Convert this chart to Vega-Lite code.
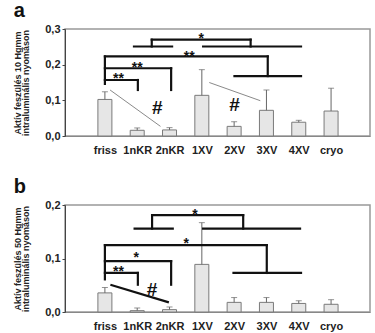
{
  "$schema": "https://vega.github.io/schema/vega-lite/v6.json",
  "padding": {"left": 12, "top": 0, "right": 5, "bottom": 0},
  "spacing": 20,
  "datasets": {
    "bars": [
      {"panel": "a", "cat": "friss", "pos": 0, "value": 0.1025, "err": 0.124},
      {"panel": "a", "cat": "1nKR", "pos": 1, "value": 0.016, "err": 0.0226},
      {"panel": "a", "cat": "2nKR", "pos": 2, "value": 0.017, "err": 0.0235},
      {"panel": "a", "cat": "1XV", "pos": 3, "value": 0.114, "err": 0.186},
      {"panel": "a", "cat": "2XV", "pos": 4, "value": 0.027, "err": 0.040},
      {"panel": "a", "cat": "3XV", "pos": 5, "value": 0.072, "err": 0.129},
      {"panel": "a", "cat": "4XV", "pos": 6, "value": 0.0386, "err": 0.044},
      {"panel": "a", "cat": "cryo", "pos": 7, "value": 0.070, "err": 0.134},
      {"panel": "b", "cat": "friss", "pos": 0, "value": 0.0357, "err": 0.0458},
      {"panel": "b", "cat": "1nKR", "pos": 1, "value": 0.0025, "err": 0.0075},
      {"panel": "b", "cat": "2nKR", "pos": 2, "value": 0.0044, "err": 0.0094},
      {"panel": "b", "cat": "1XV", "pos": 3, "value": 0.089, "err": 0.167},
      {"panel": "b", "cat": "2XV", "pos": 4, "value": 0.018, "err": 0.027},
      {"panel": "b", "cat": "3XV", "pos": 5, "value": 0.018, "err": 0.027},
      {"panel": "b", "cat": "4XV", "pos": 6, "value": 0.016, "err": 0.021},
      {"panel": "b", "cat": "cryo", "pos": 7, "value": 0.0144, "err": 0.023}
    ],
    "brackets": [
      {"panel": "a", "x1": 0.9, "x2": 2.08, "y1": 0.251, "y2": 0.251},
      {"panel": "a", "x1": 3.04, "x2": 6.07, "y1": 0.251, "y2": 0.251},
      {"panel": "a", "x1": 1.45, "x2": 1.45, "y1": 0.251, "y2": 0.270},
      {"panel": "a", "x1": 1.45, "x2": 4.51, "y1": 0.270, "y2": 0.270},
      {"panel": "a", "x1": 4.51, "x2": 4.51, "y1": 0.270, "y2": 0.251},
      {"panel": "a", "x1": 0, "x2": 5.04, "y1": 0.223, "y2": 0.223},
      {"panel": "a", "x1": 5.04, "x2": 5.04, "y1": 0.223, "y2": 0.168},
      {"panel": "a", "x1": 4.01, "x2": 6.07, "y1": 0.168, "y2": 0.168},
      {"panel": "a", "x1": 0, "x2": 0, "y1": 0.223, "y2": 0.146},
      {"panel": "a", "x1": 0, "x2": 2.05, "y1": 0.190, "y2": 0.190},
      {"panel": "a", "x1": 2.05, "x2": 2.05, "y1": 0.190, "y2": 0.129},
      {"panel": "a", "x1": 0, "x2": 1.02, "y1": 0.157, "y2": 0.157},
      {"panel": "a", "x1": 1.02, "x2": 1.02, "y1": 0.157, "y2": 0.129},
      {"panel": "b", "x1": 0.92, "x2": 2.1, "y1": 0.156, "y2": 0.156},
      {"panel": "b", "x1": 3.04, "x2": 6.04, "y1": 0.156, "y2": 0.156},
      {"panel": "b", "x1": 1.46, "x2": 1.46, "y1": 0.156, "y2": 0.181},
      {"panel": "b", "x1": 1.46, "x2": 4.28, "y1": 0.181, "y2": 0.181},
      {"panel": "b", "x1": 4.28, "x2": 4.28, "y1": 0.181, "y2": 0.156},
      {"panel": "b", "x1": 0, "x2": 5.01, "y1": 0.125, "y2": 0.125},
      {"panel": "b", "x1": 5.01, "x2": 5.01, "y1": 0.125, "y2": 0.073},
      {"panel": "b", "x1": 3.98, "x2": 6.07, "y1": 0.073, "y2": 0.073},
      {"panel": "b", "x1": 0, "x2": 0, "y1": 0.125, "y2": 0.061},
      {"panel": "b", "x1": 0, "x2": 2.05, "y1": 0.095, "y2": 0.095},
      {"panel": "b", "x1": 2.05, "x2": 2.05, "y1": 0.095, "y2": 0.051},
      {"panel": "b", "x1": 0, "x2": 1.02, "y1": 0.073, "y2": 0.073},
      {"panel": "b", "x1": 1.02, "x2": 1.02, "y1": 0.073, "y2": 0.051}
    ],
    "diag": [
      {"panel": "a", "x1": 0.16, "y1": 0.129, "x2": 1.72, "y2": 0.027},
      {"panel": "a", "x1": 3.23, "y1": 0.150, "x2": 4.81, "y2": 0.099},
      {"panel": "b", "x1": 0.17, "y1": 0.051, "x2": 1.98, "y2": 0.018}
    ],
    "labels": [
      {"panel": "a", "x": 2.98, "y": 0.284, "label": "*"},
      {"panel": "a", "x": 2.61, "y": 0.234, "label": "**"},
      {"panel": "a", "x": 1.0, "y": 0.201, "label": "**"},
      {"panel": "a", "x": 0.42, "y": 0.170, "label": "**"},
      {"panel": "a", "x": 1.62, "y": 0.082, "label": "#"},
      {"panel": "a", "x": 4.01, "y": 0.089, "label": "#"},
      {"panel": "b", "x": 2.79, "y": 0.189, "label": "*"},
      {"panel": "b", "x": 2.52, "y": 0.135, "label": "*"},
      {"panel": "b", "x": 0.97, "y": 0.108, "label": "*"},
      {"panel": "b", "x": 0.42, "y": 0.083, "label": "**"},
      {"panel": "b", "x": 1.46, "y": 0.043, "label": "#"}
    ]
  },
  "vconcat": [
    {
      "width": 305,
      "height": 107,
      "title": {"text": "a", "anchor": "start", "frame": "bounds", "fontSize": 20, "fontWeight": "bold", "offset": 2},
      "layer": [
        {
          "data": {"name": "bars"},
          "transform": [{"filter": "datum.panel === 'a'"}],
          "mark": {"type": "bar", "width": 14, "fill": "#e6e6e6", "stroke": "#7a7a7a", "strokeWidth": 1},
          "encoding": {
            "x": {"field": "pos", "type": "quantitative", "scale": {"domain": [-1.08, 8.05], "nice": false, "zero": false},
              "axis": {"title": null, "values": [0, 1, 2, 3, 4, 5, 6, 7], "ticks": false, "labelPadding": 8, "domainColor": "#888", "labelFlush": false, "labelOverlap": false,
                "labelExpr": "['friss','1nKR','2nKR','1XV','2XV','3XV','4XV','cryo'][datum.value]"}},
            "y": {"field": "value", "type": "quantitative", "scale": {"domain": [0, 0.3], "nice": false},
              "axis": {"title": ["Aktív feszülés 10 Hgmm", "intraluminális nyomáson"], "tickCount": 3, "format": ".1f", "labelOverlap": false, "labelFlush": false,
                "tickSize": 3, "labelPadding": 2, "titlePadding": 14, "domainColor": "#444", "tickColor": "#444"}}
          }
        },
        {
          "data": {"name": "bars"},
          "transform": [{"filter": "datum.panel === 'a'"}],
          "mark": {"type": "rule", "color": "#666", "strokeWidth": 1},
          "encoding": {
            "x": {"field": "pos", "type": "quantitative"},
            "y": {"field": "value", "type": "quantitative"},
            "y2": {"field": "err"}
          }
        },
        {
          "data": {"name": "bars"},
          "transform": [{"filter": "datum.panel === 'a'"}],
          "mark": {"type": "tick", "orient": "horizontal", "size": 6, "thickness": 1, "color": "#666"},
          "encoding": {
            "x": {"field": "pos", "type": "quantitative"},
            "y": {"field": "err", "type": "quantitative"}
          }
        },
        {
          "data": {"name": "diag"},
          "transform": [{"filter": "datum.panel === 'a'"}],
          "mark": {"type": "rule", "color": "#8a8a8a", "strokeWidth": 1},
          "encoding": {
            "x": {"field": "x1", "type": "quantitative"},
            "x2": {"field": "x2"},
            "y": {"field": "y1", "type": "quantitative"},
            "y2": {"field": "y2"}
          }
        },
        {
          "data": {"name": "brackets"},
          "transform": [{"filter": "datum.panel === 'a'"}],
          "mark": {"type": "rule", "color": "#111", "strokeWidth": 2.2, "strokeCap": "square"},
          "encoding": {
            "x": {"field": "x1", "type": "quantitative"},
            "x2": {"field": "x2"},
            "y": {"field": "y1", "type": "quantitative"},
            "y2": {"field": "y2"}
          }
        },
        {
          "data": {"name": "labels"},
          "transform": [{"filter": "datum.panel === 'a' && datum.label !== '#'"}],
          "mark": {"type": "text", "fontSize": 14, "fontWeight": "bold", "baseline": "alphabetic", "dy": 8, "color": "#111"},
          "encoding": {
            "x": {"field": "x", "type": "quantitative"},
            "y": {"field": "y", "type": "quantitative"},
            "text": {"field": "label"}
          }
        },
        {
          "data": {"name": "labels"},
          "transform": [{"filter": "datum.panel === 'a' && datum.label === '#'"}],
          "mark": {"type": "text", "fontSize": 19, "fontWeight": "bold", "baseline": "alphabetic", "dy": 7, "color": "#111"},
          "encoding": {
            "x": {"field": "x", "type": "quantitative"},
            "y": {"field": "y", "type": "quantitative"},
            "text": {"field": "label"}
          }
        }
      ]
    },
    {
      "width": 305,
      "height": 107,
      "title": {"text": "b", "anchor": "start", "frame": "bounds", "fontSize": 20, "fontWeight": "bold", "offset": 2},
      "layer": [
        {
          "data": {"name": "bars"},
          "transform": [{"filter": "datum.panel === 'b'"}],
          "mark": {"type": "bar", "width": 14, "fill": "#e6e6e6", "stroke": "#7a7a7a", "strokeWidth": 1},
          "encoding": {
            "x": {"field": "pos", "type": "quantitative", "scale": {"domain": [-1.08, 8.05], "nice": false, "zero": false},
              "axis": {"title": null, "values": [0, 1, 2, 3, 4, 5, 6, 7], "ticks": false, "labelPadding": 8, "domainColor": "#888", "labelFlush": false, "labelOverlap": false,
                "labelExpr": "['friss','1nKR','2nKR','1XV','2XV','3XV','4XV','cryo'][datum.value]"}},
            "y": {"field": "value", "type": "quantitative", "scale": {"domain": [0, 0.2], "nice": false},
              "axis": {"title": ["Aktív feszülés 50 Hgmm", "intraluminális nyomáson"], "tickCount": 2, "format": ".1f", "labelOverlap": false, "labelFlush": false,
                "tickSize": 3, "labelPadding": 2, "titlePadding": 14, "domainColor": "#444", "tickColor": "#444"}}
          }
        },
        {
          "data": {"name": "bars"},
          "transform": [{"filter": "datum.panel === 'b'"}],
          "mark": {"type": "rule", "color": "#666", "strokeWidth": 1},
          "encoding": {
            "x": {"field": "pos", "type": "quantitative"},
            "y": {"field": "value", "type": "quantitative"},
            "y2": {"field": "err"}
          }
        },
        {
          "data": {"name": "bars"},
          "transform": [{"filter": "datum.panel === 'b'"}],
          "mark": {"type": "tick", "orient": "horizontal", "size": 6, "thickness": 1, "color": "#666"},
          "encoding": {
            "x": {"field": "pos", "type": "quantitative"},
            "y": {"field": "err", "type": "quantitative"}
          }
        },
        {
          "data": {"name": "diag"},
          "transform": [{"filter": "datum.panel === 'b'"}],
          "mark": {"type": "rule", "color": "#111", "strokeWidth": 2.2},
          "encoding": {
            "x": {"field": "x1", "type": "quantitative"},
            "x2": {"field": "x2"},
            "y": {"field": "y1", "type": "quantitative"},
            "y2": {"field": "y2"}
          }
        },
        {
          "data": {"name": "brackets"},
          "transform": [{"filter": "datum.panel === 'b'"}],
          "mark": {"type": "rule", "color": "#111", "strokeWidth": 2.2, "strokeCap": "square"},
          "encoding": {
            "x": {"field": "x1", "type": "quantitative"},
            "x2": {"field": "x2"},
            "y": {"field": "y1", "type": "quantitative"},
            "y2": {"field": "y2"}
          }
        },
        {
          "data": {"name": "labels"},
          "transform": [{"filter": "datum.panel === 'b' && datum.label !== '#'"}],
          "mark": {"type": "text", "fontSize": 14, "fontWeight": "bold", "baseline": "alphabetic", "dy": 8, "color": "#111"},
          "encoding": {
            "x": {"field": "x", "type": "quantitative"},
            "y": {"field": "y", "type": "quantitative"},
            "text": {"field": "label"}
          }
        },
        {
          "data": {"name": "labels"},
          "transform": [{"filter": "datum.panel === 'b' && datum.label === '#'"}],
          "mark": {"type": "text", "fontSize": 19, "fontWeight": "bold", "baseline": "alphabetic", "dy": 7, "color": "#111"},
          "encoding": {
            "x": {"field": "x", "type": "quantitative"},
            "y": {"field": "y", "type": "quantitative"},
            "text": {"field": "label"}
          }
        }
      ]
    }
  ],
  "config": {
    "locale": {"number": {"decimal": ",", "thousands": " ", "grouping": [3], "currency": ["", " Ft"]}},
    "font": "Liberation Sans",
    "view": {"stroke": "#999", "strokeWidth": 1.5},
    "axis": {"grid": false, "labelFont": "Liberation Sans", "labelFontWeight": "bold", "labelFontSize": 11, "labelColor": "#222",
      "titleFont": "Liberation Sans", "titleFontWeight": "bold", "titleFontSize": 9, "titleLineHeight": 8, "titleColor": "#222"},
    "title": {"font": "Liberation Sans", "color": "#111"}
  }
}
